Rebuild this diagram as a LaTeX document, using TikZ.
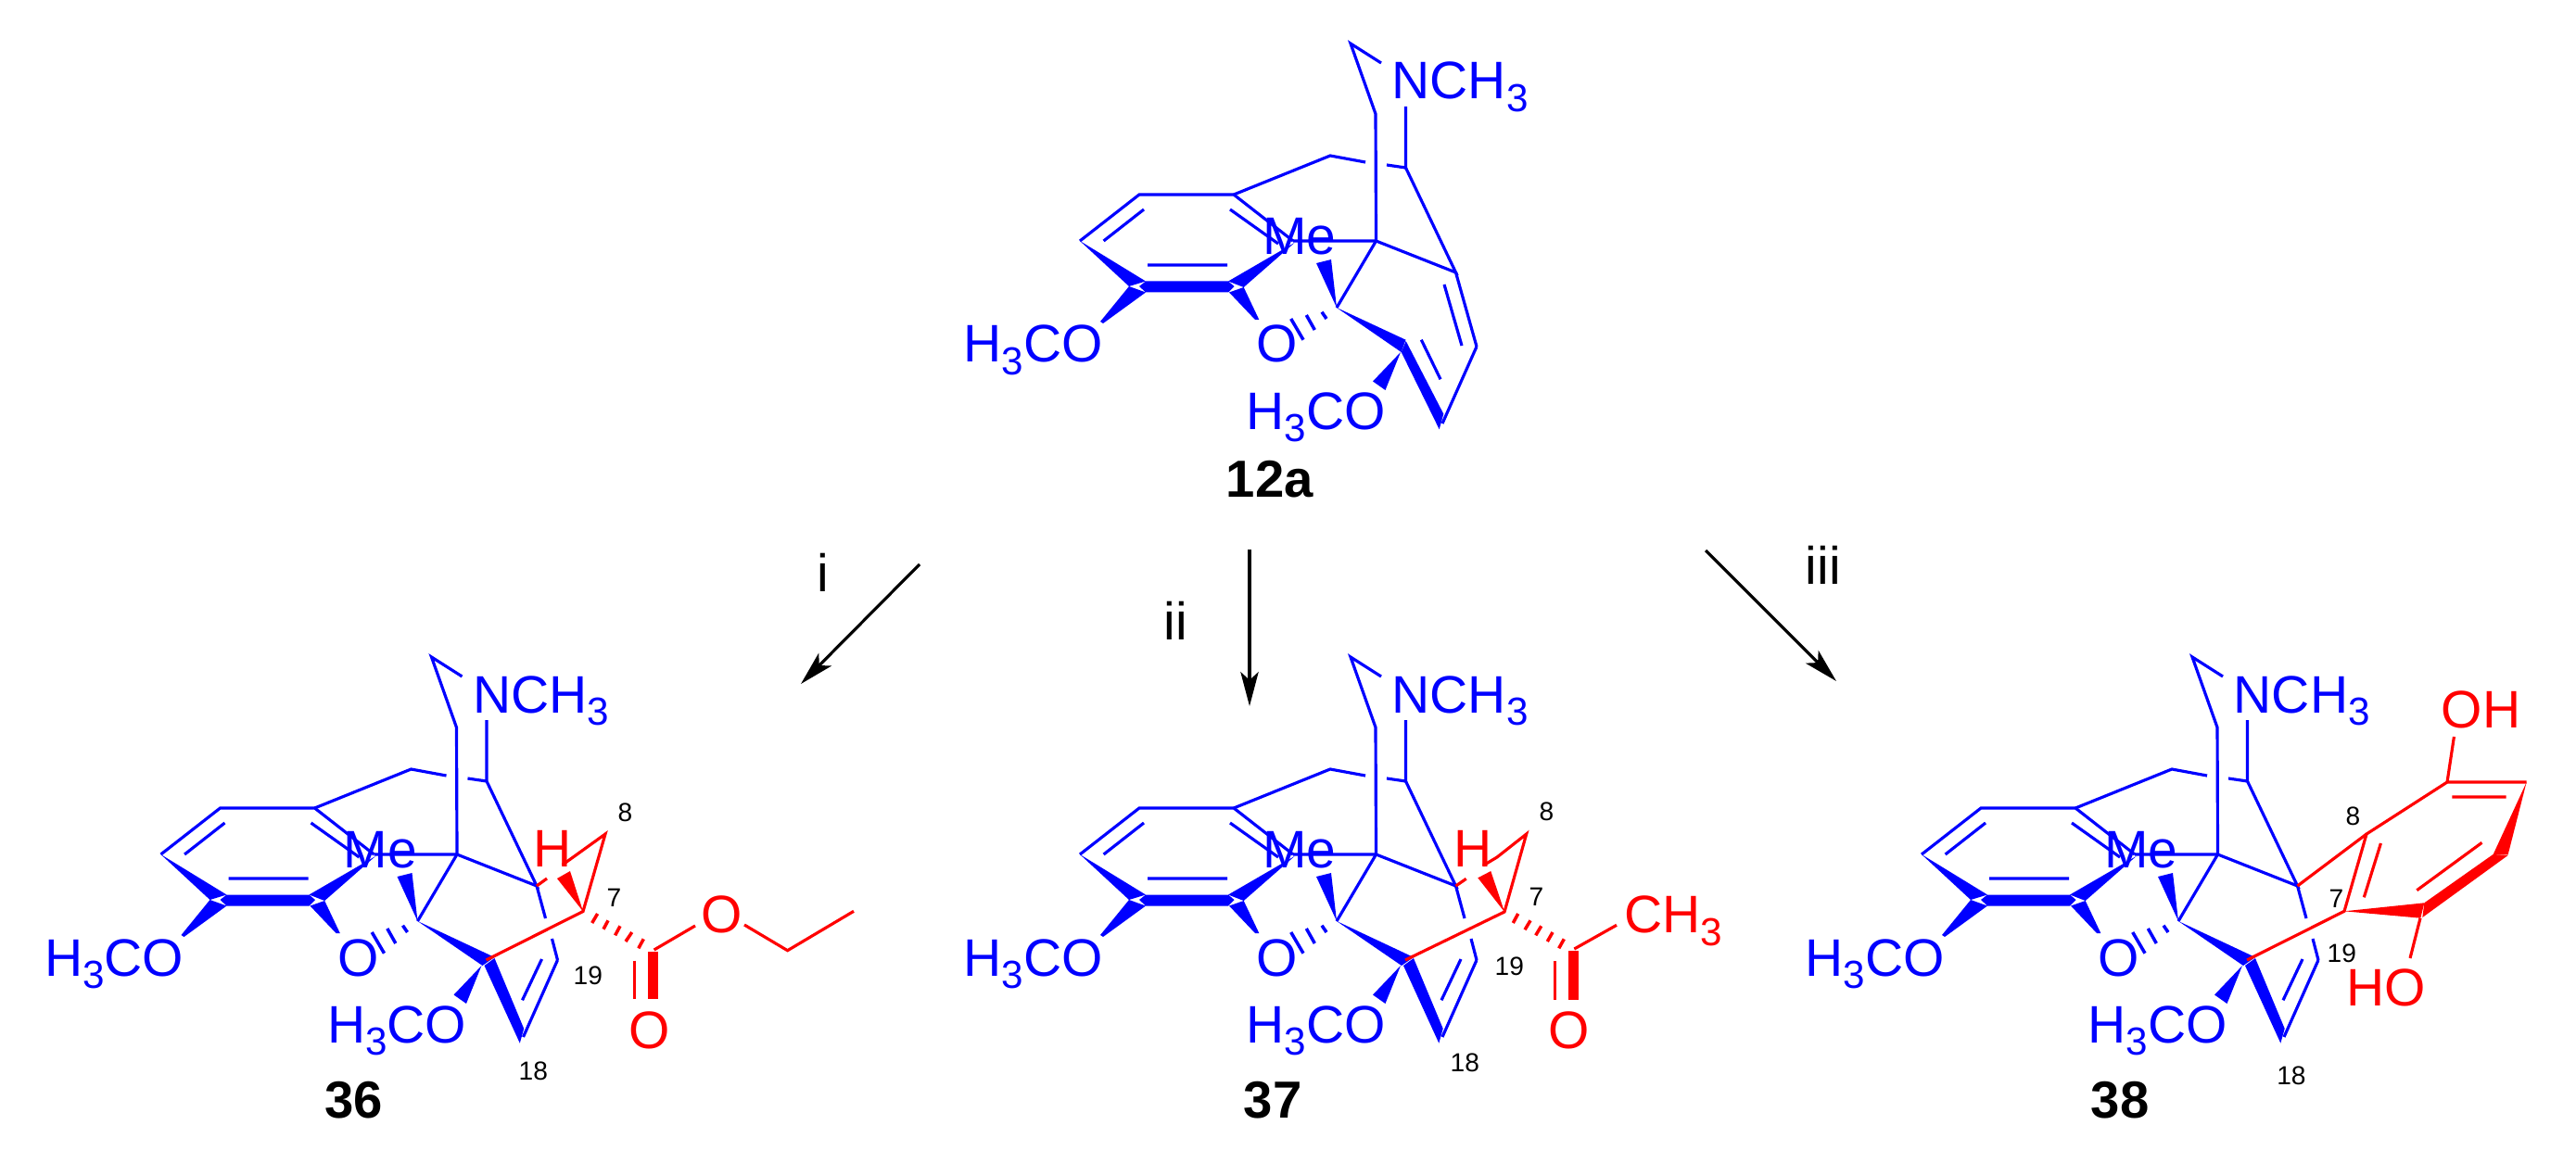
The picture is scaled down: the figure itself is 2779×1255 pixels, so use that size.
\documentclass[tikz,border=0pt]{standalone}
\usepackage{fontspec}
\setmainfont{Liberation Sans}
\usetikzlibrary{arrows.meta}
\newcommand{\subthree}{\raisebox{-3.8pt}{\fontsize{12}{14}\selectfont 3}}
\tikzset{
    atom/.style={anchor=base west, inner sep=0pt, font=\fontsize{16.2}{18}\selectfont},
    locant/.style={anchor=base west, inner sep=0pt, font=\fontsize{8}{10}\selectfont},
    title/.style={anchor=base west, inner sep=0pt, font=\fontsize{16}{18}\selectfont\bfseries},
    bond/.style={line width=0.9pt},
    hash/.style={line width=1pt},
    react/.style={line width=0.9pt, -{Stealth[length=10.5pt,width=5.5pt,inset=2.5pt]}},
    pics/core/.style={code={
        \coordinate (-a1) at (1457,47);
        \coordinate (-a2) at (1484,123);
        \coordinate (-a3) at (1484.5,260);
        \coordinate (-b1) at (1516.5,115);
        \coordinate (-b2) at (1516.5,181);
        \coordinate (-c1) at (1435,168);
        \coordinate (-r1) at (1331,210);
        \coordinate (-r2) at (1229,210);
        \coordinate (-r3) at (1165,260);
        \coordinate (-r6) at (1395,260);
        \coordinate (-d1) at (1442,332);
        \coordinate (-e1) at (1570.5,294);
        \coordinate (-f1) at (1593,374);
        \coordinate (-g1) at (1556,457);
        \coordinate (-h1) at (1516,374);
        \begin{scope}[blue]
        \node[atom] (-nme) at (1501,107) {NCH\subthree};
        \node[atom] (-me) at (1361.5,274.5) {Me};
        \node[atom] (-oa) at (1039,391) {H\subthree CO};
        \node[atom] (-o) at (1355,391) {O};
        \node[atom] (-ob) at (1344,463) {H\subthree CO};
        \draw[bond] (1490,68) -- (-a1) -- (-a2) -- (-a3) -- (-d1);
        \draw[bond] (-b1) -- (-b2) -- (-e1) -- (-a3) -- (-r6);
        \draw[bond] (-r3) -- (-r2) -- (-r1) -- (-r6);
        \draw[bond] (-r1) -- (-c1) -- (1473,175) (1496,178) -- (-b2);
        \draw[bond] (1327,226) -- (1379,263) (1234,226) -- (1190.6,260) (1238,286) -- (1324,286);
        \draw[bond] (-f1) -- (-g1);
        \fill (-r3) -- (1218,309) -- (1236,303.5) -- cycle;
        \fill (1236,303.5) -- (1325,303.5) -- (1331.5,309) -- (1325,315.5) -- (1236,315.5) -- (1229,309) -- cycle;
        \fill (1396.5,262) -- (1325,303.5) -- (1341.7,310) -- cycle;
        \fill (1218,309) -- (1236,315.5) -- (1190,349) -- (1187,347) -- cycle;
        \fill (1326,315.5) -- (1341.7,310) -- (1358.3,345) -- (1354,345) -- cycle;
        \fill (-d1) -- (1420,284) -- (1436,280) -- cycle;
        \fill (1511,380) -- (1494.5,421) -- (1481,411.5) -- cycle;
        \draw[hash] (1431,344) -- (1426,336.7) (1418.3,356) -- (1409.3,340) (1406,366.7) -- (1392.7,344);
        \end{scope}
    }},
    pics/enea/.style={code={
        \begin{scope}[blue]
        \fill (1442,332) -- (1516.5,366.7) -- (1511.7,380) -- cycle;
        \fill (1511.7,380) -- (1516.7,368) -- (1557.3,446.7) -- (1552.7,463.3) -- cycle;
        \draw[bond] (1570.5,294) -- (1593,374);
        \draw[bond] (1558,307) -- (1577,373) (1533.3,366.7) -- (1554,409.3);
        \end{scope}
    }},
    pics/eneb/.style={code={
        \begin{scope}[blue]
        \fill (1442,332) -- (1525,371) -- (1512,380) -- cycle;
        \fill (1514,380) -- (1525,372) -- (1556.7,448) -- (1552.3,463.7) -- cycle;
        \draw[bond] (1570.5,294) -- +(9.5,35) (1593,374) -- +(-6,-23);
        \draw[bond] (1576,373) -- (1555,417.3);
        \end{scope}
    }}
}
\begin{document}
\begin{tikzpicture}[x=0.01cm, y=-0.01cm]
    \useasboundingbox (0,0) rectangle (2779,1255);
    % starting material
    \pic (ma) at (0,0) {core};
    \pic (mae) at (0,0) {enea};
    \node[title] (name12a) at (1322,536) {12a};
    % reaction arrows
    \coordinate (ia) at (992,609);
    \coordinate (ib) at (864,738);
    \coordinate (iia) at (1348,593);
    \coordinate (iib) at (1348,762);
    \coordinate (iiia) at (1840,594);
    \coordinate (iiib) at (1981,735);
    \draw[react] (ia) -- (ib);
    \draw[react] (iia) -- (iib);
    \draw[react] (iiia) -- (iiib);
    \node[atom] (labi) at (881,638) {i};
    \node[atom] (labii) at (1255,690) {ii};
    \node[atom] (labiii) at (1947,630) {iii};
    % ester
    \pic (mb) at (-991.5,662) {core};
    \pic (mbe) at (-991.5,662) {eneb};
    \coordinate (bsev) at (629,983.5);
    \coordinate (beig) at (653,900);
    \coordinate (bco) at (705.6,1025);
    \draw[bond,red] (mb-h1) -- (bsev) -- (beig) -- (606.7,933.3) (590,948) -- (mb-e1);
    \fill[red] (bsev) -- (601,948) -- (615,940) -- cycle;
    \draw[hash,red] (644.6,986) -- (638.7,996) (656,993.3) -- (651,1002.7) (669,999.3) -- (663.6,1009.3)
        (681.7,1006) -- (675,1016) (694.3,1013.3) -- (688.8,1023.3);
    \fill[red] (699.3,1026.7) rectangle (710,1078);
    \draw[bond,red] (684.6,1036.7) -- (684.6,1078);
    \draw[bond,red] (bco) -- (750,999) (803,998) -- (849.6,1025.7) -- (921,983.3);
    \node[atom,red] (bh) at (575,935) {H};
    \node[atom,red] (bo) at (756,1006.7) {O};
    \node[atom,red] (boo) at (677.4,1131.7) {O};
    \node[locant] (b8) at (666,886.7) {8};
    \node[locant] (b7) at (654,978) {7};
    \node[locant] (b19) at (618,1062) {19};
    \node[locant] (b18) at (559,1165) {18};
    \node[title] (name36) at (350,1206.7) {36};
    % ketone
    \pic (mc) at (0,662) {core};
    \pic (mce) at (0,662) {eneb};
    \coordinate (csev) at (1623,984);
    \coordinate (ceig) at (1646.7,900);
    \coordinate (cco) at (1698.3,1024);
    \draw[bond,red] (mc-h1) -- (csev) -- (ceig) -- (1615,925) -- (1600,934) (1581.7,948.3) -- (mc-e1);
    \fill[red] (csev) -- (1594.3,947.3) -- (1608.3,940) -- cycle;
    \draw[hash,red] (1637.7,986) -- (1632.3,996) (1651,993.3) -- (1645,1003.3) (1662.7,999.3) -- (1656.7,1009.3)
        (1675,1006) -- (1669.3,1016) (1687.3,1013.3) -- (1681.7,1023.3);
    \fill[red] (1691.7,1026) rectangle (1703.3,1079);
    \draw[bond,red] (1677.7,1037.3) -- (1677.7,1079);
    \draw[bond,red] (cco) -- (1744,998.3);
    \node[atom,red] (ch) at (1567.7,935) {H};
    \node[atom,red] (cme) at (1751.7,1006.7) {CH\subthree};
    \node[atom,red] (coo) at (1670,1131.7) {O};
    \node[locant] (c8) at (1660,885) {8};
    \node[locant] (c7) at (1649,977) {7};
    \node[locant] (c19) at (1612,1052.7) {19};
    \node[locant] (c18) at (1564,1156.7) {18};
    \node[title] (name37) at (1341,1206.7) {37};
    % hydroquinone
    \pic (md) at (908,662) {core};
    \pic (mde) at (908,662) {eneb};
    \coordinate (dsev) at (2529,983.3);
    \coordinate (deig) at (2553,900);
    \coordinate (dtop) at (2640,844);
    \coordinate (dcor) at (2725.6,844);
    \draw[bond,red] (md-h1) -- (dsev) -- (deig) -- (dtop) -- (dcor);
    \draw[bond,red] (md-e1) -- (deig);
    \draw[bond,red] (dtop) -- (2647.4,795);
    \draw[bond,red] (2568.4,910) -- (2550.3,968.3) (2645.4,860) -- (2703.5,860) (2677.5,909.3) -- (2607.3,960.7);
    \fill[red] (dcor) -- (2689.5,922.3) -- (2705.6,922.3) -- cycle;
    \fill[red] (2689.5,922) -- (2705.6,923) -- (2613.3,990) -- (2615.3,974.3) -- cycle;
    \fill[red] (dsev) -- (2615.3,974.3) -- (2611.3,990.7) -- cycle;
    \draw[bond,red] (2611,990.7) -- (2600,1034);
    \node[atom,red] (doh) at (2633,785) {OH};
    \node[atom,red] (dho) at (2531,1085) {HO};
    \node[locant] (d8) at (2530,890) {8};
    \node[locant] (d7) at (2512,979) {7};
    \node[locant] (d19) at (2510,1038) {19};
    \node[locant] (d18) at (2455.6,1170) {18};
    \node[title] (name38) at (2255,1206.7) {38};
\end{tikzpicture}
\end{document}
